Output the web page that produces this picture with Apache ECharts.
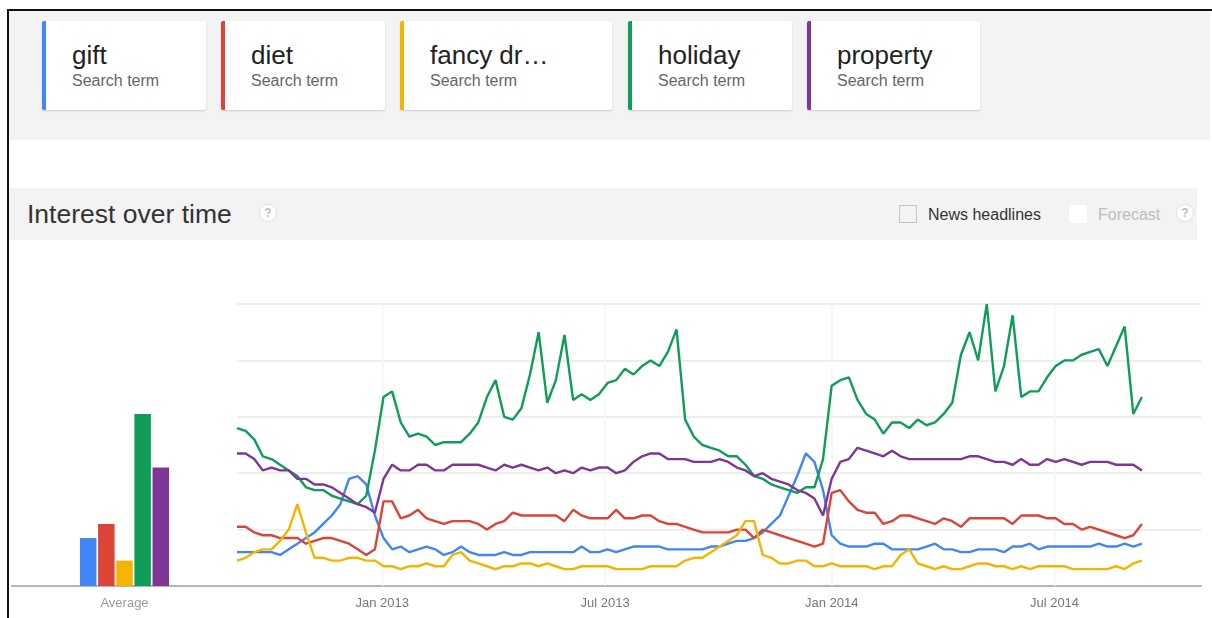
<!DOCTYPE html>
<html>
<head>
<meta charset="utf-8">
<title>Interest over time</title>
<script src="https://cdn.jsdelivr.net/npm/echarts@6/dist/echarts.min.js"></script>
<style>
  html, body { margin: 0; padding: 0; background: #fff; width: 1212px; height: 618px; overflow: hidden;
    font-family: "Liberation Sans", Arial, sans-serif; }
  #chart { position: absolute; left: 0; top: 0; width: 1212px; height: 618px; }
  .frame-top { position: absolute; left: 7px; top: 9px; width: 1205px; height: 2px; background: #111; z-index: 3; }
  .frame-left { position: absolute; left: 7px; top: 9px; width: 2px; height: 609px; background: #111; z-index: 3; }
  .terms { position: absolute; left: 9px; top: 11px; width: 1201px; height: 129px; background: #f3f3f3; z-index: 2; }
  .card { position: absolute; top: 10px; height: 89px; box-sizing: border-box; background: #fff;
    border-left: 4px solid; border-radius: 2px; box-shadow: 0 1px 2px rgba(0,0,0,0.16); }
  .card .t { position: absolute; left: 26px; top: 21px; font-size: 26px; line-height: 26px; color: #222; white-space: nowrap; }
  .card .s { position: absolute; left: 26px; top: 52px; font-size: 16px; line-height: 16px; color: #666; white-space: nowrap; }
  .band { position: absolute; left: 9px; top: 188px; width: 1188px; height: 52px; background: #f3f3f3; z-index: 2; }
  .band .title { position: absolute; left: 18px; top: 13px; font-size: 26.5px; line-height: 26.5px; color: #333; white-space: nowrap; }
  .help { position: absolute; width: 18px; height: 18px; border-radius: 50%; background: #fff;
    border: 1px solid #e2e2e2; box-sizing: border-box; color: #bdbdbd; font-size: 12px; line-height: 16px;
    text-align: center; font-weight: bold; }
  .box { position: absolute; width: 18px; height: 18px; box-sizing: border-box; }
  .lbl { position: absolute; font-size: 16px; line-height: 16px; white-space: nowrap; }
</style>
</head>
<body>
<div id="chart"></div>
<div class="frame-top"></div>
<div class="frame-left"></div>
<div class="terms" id="terms"></div>
<div class="band">
  <div class="title">Interest over time</div>
  <div class="help" style="left:250px; top:16px;">?</div>
  <div class="box" style="left:890px; top:17px; border:1px solid #c4c4c4;"></div>
  <div class="lbl" style="left:919px; top:19px; color:#333;">News headlines</div>
  <div class="box" style="left:1060px; top:17px; background:#fff;"></div>
  <div class="lbl" style="left:1089px; top:19px; color:#bdbdbd;">Forecast</div>
  <div class="help" style="left:1167px; top:16px;">?</div>
</div>
<script>
// Search terms, their colours and the card titles shown above the chart
const terms = ['gift', 'diet', 'fancy dress', 'holiday', 'property'];
const cardTitles = ['gift', 'diet', 'fancy dr\u2026', 'holiday', 'property'];
const colors = ['#4285f4', '#db4437', '#f4b400', '#0f9d58', '#7e3794'];

// Average interest over the whole period (same 0-100 scale)
const averages = [17, 22, 9, 61, 42];

// Weekly interest, one value per week starting 5 Sep 2012
const firstWeek = Date.UTC(2012, 8, 5);
const gift = [12, 12, 12, 12, 12, 11, 13, 15, 17, 19, 22, 25, 29, 38, 39, 36, 25, 17, 13, 14, 12, 13,
  14, 13, 11, 12, 14, 12, 11, 11, 11, 12, 11, 11, 12, 12, 12, 12, 12, 12, 14, 12, 12,
  13, 12, 13, 14, 14, 14, 14, 13, 13, 13, 13, 13, 14, 14, 15, 16, 16, 17, 19, 22, 25, 32,
  39, 47, 44, 34, 18, 15, 14, 14, 14, 15, 15, 13, 13, 13, 13, 14, 15, 13, 13, 12, 12,
  13, 13, 13, 12, 14, 14, 15, 13, 14, 14, 14, 14, 14, 14, 15, 14, 14, 15, 14, 15];
const diet = [21, 21, 19, 18, 18, 17, 17, 17, 15, 16, 17, 17, 16, 15, 13, 11, 13, 30, 30, 24, 25, 27,
  24, 23, 22, 23, 23, 23, 22, 20, 22, 23, 26, 25, 25, 25, 25, 25, 23, 27, 25, 24, 24,
  24, 27, 24, 24, 25, 25, 23, 22, 22, 21, 20, 19, 19, 19, 19, 20, 20, 17, 20, 19, 18, 17,
  16, 15, 14, 15, 33, 34, 30, 27, 26, 26, 22, 23, 25, 25, 24, 23, 22, 24, 23, 21, 24,
  24, 24, 24, 24, 22, 25, 25, 25, 24, 24, 22, 22, 20, 21, 20, 19, 18, 17, 18, 22];
const fancyDress = [9, 10, 12, 13, 13, 16, 20, 29, 19, 10, 10, 9, 9, 10, 10, 9, 9, 7, 7, 6, 7, 7,
  8, 7, 7, 11, 12, 9, 8, 7, 6, 7, 7, 8, 8, 7, 8, 7, 6, 6, 7, 7, 7,
  7, 6, 6, 6, 6, 7, 7, 7, 7, 9, 10, 10, 12, 14, 16, 18, 23, 23, 11, 10, 8, 8,
  9, 9, 7, 7, 8, 7, 7, 7, 7, 6, 7, 7, 11, 13, 8, 7, 6, 7, 6, 6, 7,
  8, 8, 7, 7, 6, 7, 6, 7, 7, 7, 7, 6, 6, 6, 6, 6, 7, 6, 8, 9];
const holiday = [56, 55, 52, 46, 45, 43, 41, 39, 35, 34, 34, 32, 31, 30, 29, 32, 48, 67, 69, 58, 53, 54,
  53, 50, 51, 51, 51, 54, 58, 67, 73, 60, 59, 63, 75, 90, 65, 73, 89, 66, 68, 66, 68,
  72, 73, 77, 75, 78, 80, 78, 83, 91, 59, 53, 50, 49, 48, 46, 46, 43, 39, 38, 36, 35, 34,
  33, 35, 35, 45, 71, 73, 74, 66, 61, 59, 54, 58, 58, 56, 59, 57, 58, 61, 65, 82, 90,
  80, 100, 69, 78, 96, 67, 69, 69, 74, 78, 80, 80, 82, 83, 84, 78, 85, 92, 61, 67];
const property = [47, 47, 45, 41, 42, 41, 41, 38, 38, 36, 36, 35, 33, 31, 29, 28, 26, 38, 43, 41, 41, 43,
  43, 41, 41, 43, 43, 43, 43, 42, 41, 43, 42, 43, 42, 41, 42, 40, 41, 40, 42, 41, 42,
  42, 40, 41, 44, 46, 47, 47, 45, 45, 45, 44, 44, 44, 45, 44, 42, 41, 39, 40, 38, 37, 36,
  34, 33, 31, 25, 38, 44, 45, 49, 48, 47, 46, 48, 46, 45, 45, 45, 45, 45, 45, 45, 46,
  46, 45, 44, 44, 43, 45, 43, 43, 45, 44, 45, 44, 43, 44, 44, 44, 43, 43, 43, 41];
const weekly = [gift, diet, fancyDress, holiday, property];

// Date axis extent (ms timestamps) and its labelled dates
const axisStart = Date.UTC(2012, 8, 5);
const axisEnd = Date.UTC(2014, 9, 28);
const tickLabels = ['Jan 2013', 'Jul 2013', 'Jan 2014', 'Jul 2014'];
const tickDates = [Date.UTC(2013, 0, 1), Date.UTC(2013, 6, 1), Date.UTC(2014, 0, 1), Date.UTC(2014, 6, 1)];

// Search-term cards
const termsBox = document.getElementById('terms');
const cardLefts = [33, 212, 391, 619, 798];
const cardWidths = [164, 164, 212, 164, 173];
cardTitles.forEach(function (title, k) {
  const card = document.createElement('div');
  card.className = 'card';
  card.style.left = cardLefts[k] + 'px';
  card.style.width = cardWidths[k] + 'px';
  card.style.borderLeftColor = colors[k];
  card.innerHTML = '<div class="t"></div><div class="s">Search term</div>';
  card.querySelector('.t').textContent = title;
  termsBox.appendChild(card);
});

const font = '"Liberation Sans", Arial, sans-serif';
const DAY = 86400000;
const weeks = gift.map(function (_, i) { return firstWeek + i * 7 * DAY; });

const series = [];
terms.forEach(function (name, k) {
  series.push({
    name: name, type: 'bar', xAxisIndex: 0, yAxisIndex: 0,
    data: [averages[k]], barWidth: 16.5, barGap: '10%',
    itemStyle: { color: colors[k] }, silent: true
  });
});
terms.forEach(function (name, k) {
  const s = {
    name: name, type: 'line', xAxisIndex: 1, yAxisIndex: 1, z: 3,
    data: weeks.map(function (t, i) { return [t, weekly[k][i]]; }),
    showSymbol: false, symbol: 'none', smooth: false, silent: true,
    lineStyle: { color: colors[k], width: 2.4 }, itemStyle: { color: colors[k] }
  };
  if (k === 0) {
    // faint vertical guides at the labelled dates
    s.markLine = {
      silent: true, symbol: ['none', 'none'], label: { show: false }, z: 1,
      lineStyle: { color: '#f6f6f6', width: 1.5, type: 'solid' },
      emphasis: { disabled: true },
      data: tickDates.map(function (t) { return { xAxis: t }; })
    };
  }
  series.push(s);
});

const chart = echarts.init(document.getElementById('chart'), null, { renderer: 'canvas' });
chart.setOption({
  animation: false,
  backgroundColor: '#fff',
  textStyle: { fontFamily: font },
  grid: [
    { left: 12, width: 225, top: 304, bottom: 32 },
    { left: 237, right: 11, top: 304, bottom: 32 }
  ],
  xAxis: [
    {
      gridIndex: 0, type: 'category', data: ['Average'],
      axisLine: { lineStyle: { color: '#b4b4b4', width: 2 } },
      axisTick: { show: false },
      axisLabel: { color: '#9a9a9a', fontSize: 13, margin: 11, fontFamily: font }
    },
    {
      gridIndex: 1, type: 'value', min: axisStart, max: axisEnd,
      axisLine: { lineStyle: { color: '#b4b4b4', width: 2 } },
      axisTick: { show: false },
      splitLine: { show: false },
      axisLabel: {
        customValues: tickDates, color: '#777', fontSize: 13, margin: 11, fontFamily: font,
        formatter: function (v) {
          const i = tickDates.indexOf(v);
          return i >= 0 ? tickLabels[i] : '';
        }
      }
    }
  ],
  yAxis: [
    { gridIndex: 0, type: 'value', min: 0, max: 100, interval: 20, show: false },
    {
      gridIndex: 1, type: 'value', min: 0, max: 100, interval: 20,
      axisLine: { show: false }, axisTick: { show: false }, axisLabel: { show: false },
      splitLine: { lineStyle: { color: '#eeeeee', width: 2 } }
    }
  ],
  series: series
});
</script>
</body>
</html>
